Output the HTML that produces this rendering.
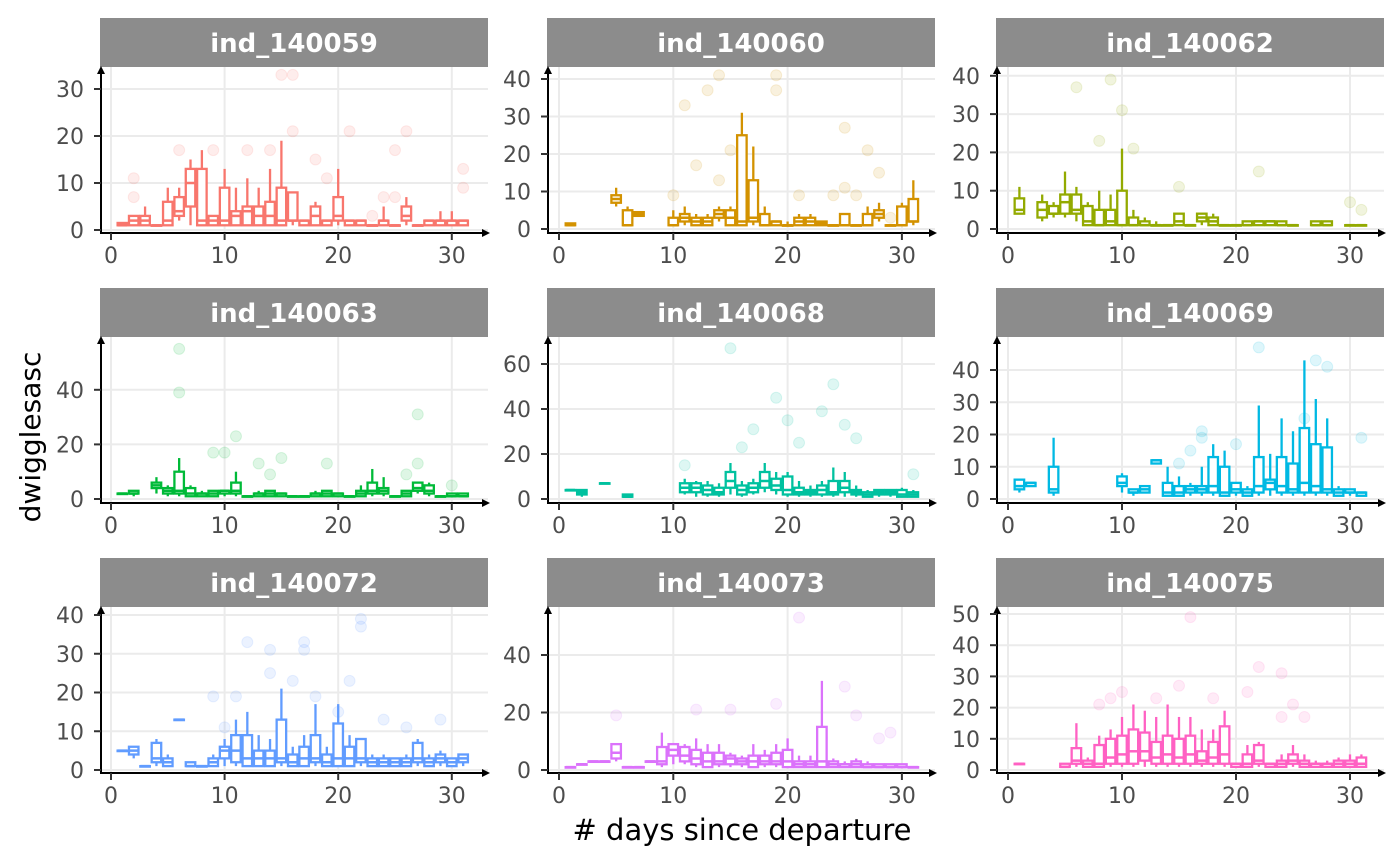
<!DOCTYPE html>
<html><head><meta charset="utf-8"><style>
body{margin:0;background:#fff}svg{display:block}
text{font-family:"DejaVu Sans","Liberation Sans",sans-serif}
</style></head><body>
<svg id="c" width="1400" height="865"></svg>
<script>
const panelNames=["ind_140059","ind_140060","ind_140062","ind_140063","ind_140068","ind_140069","ind_140072","ind_140073","ind_140075"];
const colors=["#F8766D","#D39200","#93AA00","#00BA38","#00C19F","#00B9E3","#619CFF","#DB72FB","#FF61C3"];
const xTicks=[0,10,20,30];
const yTicks=[[0,10,20,30],[0,10,20,30,40],[0,10,20,30,40],[0,20,40],[0,20,40,60],[0,10,20,30,40],[0,10,20,30,40],[0,20,40],[0,10,20,30,40,50]];
// boxes: [day, lower whisker, q1, median, q3, upper whisker]
const boxes=[
[[1,1,1,1,1.5,1.5],[2,1,1,2,3,3],[3,1,1,2,3,5],[4,1,1,1,1,1],[5,1,1,2,6,9],[6,2,3,4,7,9],[7,1,5,10,13,15],[8,1,1,2,13,17],[9,1,1,2,3,3],[10,1,1,2,9,13],[11,1,1,3,4,9],[12,1,1,4,5,11],[13,1,1,3,5,9],[14,1,1,3,6,13],[15,1,1,2,9,19],[16,1,2,2,8,8],[17,1,1,2,2,2],[18,1,1,3,5,6],[19,1,1,2,2,2],[20,1,2,3,7,13],[21,1,1,2,2,2],[22,1,1,2,2,2],[23,1,1,1,1,1],[24,1,1,2,2,5],[25,1,1,1,1,1],[26,1,2,3,5,7],[27,1,1,1,1,1],[28,1,1,2,2,2],[29,1,1,2,2,4],[30,1,1,2,2,4],[31,1,1,2,2,2]],
[[1,1,1,1,1.5,1.5],[5,6,7,8,9,11],[6,1,1,1,5,6],[7,3.5,3.5,4,4.5,4.5],[10,1,1,1,3,5],[11,1,2,3,4,6],[12,1,1,2,3,4],[13,1,1,2,3,4],[14,2,3,4,5,6],[15,1,1,3,5,6],[16,1,1,2,25,31],[17,1,2,3,13,22],[18,1,1,1,4,6],[19,1,1,2,2,2],[20,1,1,1,1,2],[21,1,1,2,3,4],[22,1,1,2,3,4],[23,1,1,1.5,2,2],[24,1,1,1,1,1],[25,1,1,1,4,4],[26,1,1,1,1,1],[27,1,1,1,4,6],[28,2,3,4,5,7],[29,1,1,1,1,1],[30,1,1,1,6,7],[31,1,2,2,8,13]],
[[1,4,4,5,8,11],[3,2,3,5,7,9],[4,3,4,4,6,7],[5,3,4,7,9,15],[6,2,4,5,9,11],[7,1,1,2,6,7],[8,1,1,1,5,10],[9,1,1,2,5,9],[10,1,1,1,10,21],[11,1,1,1,3,5],[12,1,1,1,2,3],[13,1,1,1,1,2],[14,1,1,1,1,1],[15,1,1,2,4,4],[16,1,1,1,1,1],[17,1,2,3,4,4],[18,1,1,2,3,4],[19,1,1,1,1,1],[20,1,1,1,1,1],[21,1,1,1,2,2],[22,1,1,2,2,2],[23,1,1,2,2,2],[24,1,1,1,2,2],[25,1,1,1,1,1],[27,1,1,1,2,2],[28,1,1,1,2,2],[30,1,1,1,1,1],[31,1,1,1,1,1]],
[[1,2,2,2,2,2],[2,1,2,2,3,3],[4,2,4,5,6,8],[5,1,2,3,4,5],[6,1,2,3,10,15],[7,1,1,2,4,5],[8,1,1,2,2,3],[9,1,1,2,3,3],[10,1,2,3,3,3],[11,1,2,3,6,10],[12,1,1,1,1,1],[13,1,1,2,2,3],[14,1,1,2,3,3],[15,1,1,2,2,2],[16,1,1,1,1,1],[17,1,1,1,1,1],[18,1,1,2,2,3],[19,1,1,2,3,3],[20,1,1,2,2,2],[21,1,1,1,1,1],[22,1,1,2,3,5],[23,1,2,3,6,11],[24,1,2,3,4,8],[25,1,1,1,1,1],[26,1,1,2,3,3],[27,2,3,4,6,6],[28,1,2,3,5,6],[29,1,1,1,1,1],[30,1,1,1,2,2],[31,1,1,1,2,2]],
[[1,4,4,4,4,4],[2,1,2,3,4,4],[4,7,7,7,7,7],[6,1,1,1,2,2],[11,2,3,5,7,9],[12,1,3,5,7,8],[13,1,2,4,6,8],[14,1,2,3,5,7],[15,2,5,8,12,16],[16,1,2,4,6,8],[17,2,3,5,7,9],[18,3,5,8,12,16],[19,2,4,6,9,12],[20,1,2,4,10,12],[21,1,2,3,5,8],[22,1,2,3,4,6],[23,1,2,4,6,8],[24,1,2,3,8,14],[25,1,3,5,8,12],[26,1,2,3,4,6],[27,1,1,2,3,4],[28,1,2,3,4,4],[29,1,2,3,4,4],[30,1,1,2,4,5],[31,1,1,2,3,4]],
[[1,2,3,4,6,6],[2,4,4,5,5,5],[4,1,2,3,10,19],[10,2,4,5,7,8],[11,1,2,2,3,3],[12,2,2,3,4,4],[13,11,11,12,12,12],[14,1,1,2,5,10],[15,1,1,2,4,7],[16,1,2,3,4,5],[17,1,2,3,4,10],[18,1,2,4,13,17],[19,1,1,2,10,15],[20,1,2,3,5,5],[21,1,1,2,3,4],[22,1,2,4,13,29],[23,1,3,5,6,14],[24,1,2,4,13,25],[25,1,2,3,11,21],[26,1,2,5,22,43],[27,1,2,4,17,31],[28,1,2,3,16,25],[29,1,1,2,3,4],[30,1,2,2,3,3],[31,1,1,2,2,2]],
[[1,5,5,5,5,5],[2,3,4,5,6,6],[3,1,1,1,1,1],[4,1,2,3,7,8],[5,1,1,2,3,4],[6,13,13,13,13,13],[7,1,1,1,2,2],[8,1,1,1,1,1],[9,1,1,2,3,4],[10,1,3,5,6,8],[11,1,2,5,9,13],[12,1,1,3,9,15],[13,1,1,3,5,9],[14,1,1,3,5,8],[15,1,2,3,13,21],[16,1,1,2,4,6],[17,1,1,3,6,9],[18,1,2,3,9,17],[19,1,1,2,4,6],[20,1,1,3,12,17],[21,1,1,3,6,9],[22,1,2,3,8,8],[23,1,1,2,3,4],[24,1,1,2,3,4],[25,1,1,2,3,3],[26,1,1,2,3,4],[27,1,2,3,7,8],[28,1,1,2,3,4],[29,1,2,3,4,5],[30,1,1,2,3,3],[31,1,2,3,4,4]],
[[1,1,1,1,1,1],[2,2,2,2,2,2],[3,3,3,3,3,3],[4,3,3,3,3,3],[5,3,4,6,9,9],[6,1,1,1,1,1],[7,1,1,1,1,1],[8,3,3,3,3,3],[9,1,2,3,8,13],[10,2,5,7,9,9],[11,2,3,5,8,9],[12,1,2,4,7,11],[13,1,1,3,6,9],[14,1,2,3,6,9],[15,1,2,4,5,6],[16,1,2,3,4,5],[17,1,1,3,5,9],[18,1,2,3,5,7],[19,1,2,3,6,9],[20,1,1,3,7,11],[21,1,1,2,3,5],[22,1,1,2,3,5],[23,1,1,3,15,31],[24,1,1,2,3,4],[25,1,1,2,2,3],[26,1,1,2,3,4],[27,1,1,1,2,3],[28,1,1,1,2,2],[29,1,1,1,2,2],[30,1,1,1,2,2],[31,1,1,1,1,1]],
[[1,2,2,2,2,2],[5,1,1,1,2,2],[6,1,2,3,7,15],[7,1,1,2,3,4],[8,1,1,2,8,11],[9,1,2,4,10,13],[10,1,2,5,11,17],[11,1,2,6,13,21],[12,1,3,6,12,19],[13,1,2,4,9,17],[14,1,2,5,11,21],[15,1,2,4,10,17],[16,1,2,5,11,17],[17,1,2,3,6,13],[18,1,2,4,9,13],[19,1,2,5,14,19],[20,1,1,2,2,2],[21,1,1,2,5,8],[22,1,2,3,8,9],[23,1,1,2,2,2],[24,1,1,2,3,5],[25,1,2,3,5,8],[26,1,1,2,3,5],[27,1,1,2,2,3],[28,1,1,2,2,3],[29,1,1,2,3,4],[30,1,1,2,3,5],[31,1,1,2,4,5]]
];
// outliers: [day, value]
const outliers=[
[[2,7],[2,11],[6,17],[9,17],[12,17],[14,17],[15,33],[16,33],[16,21],[18,15],[19,11],[21,21],[23,3],[24,7],[25,7],[25,17],[26,21],[31,9],[31,13]],
[[10,9],[11,33],[12,17],[13,37],[14,41],[14,13],[15,21],[19,41],[19,37],[21,9],[24,9],[25,27],[25,11],[26,9],[27,21],[28,15],[29,3]],
[[6,37],[8,23],[9,39],[10,31],[11,21],[15,11],[22,15],[30,7],[31,5]],
[[6,55],[6,39],[9,17],[10,17],[11,23],[13,13],[14,9],[15,15],[19,13],[26,9],[27,31],[27,13],[30,5]],
[[11,15],[15,67],[16,23],[17,31],[19,45],[20,35],[21,25],[23,39],[24,51],[25,33],[26,27],[31,11]],
[[15,11],[16,15],[17,21],[17,19],[20,17],[22,47],[26,25],[27,43],[28,41],[31,19]],
[[9,19],[10,11],[11,19],[12,33],[14,31],[14,25],[16,23],[17,33],[17,31],[18,19],[20,15],[22,39],[22,37],[21,23],[24,13],[26,11],[29,13]],
[[5,19],[12,21],[15,21],[19,23],[21,53],[23,11],[25,29],[26,19],[28,11],[29,13]],
[[8,21],[9,23],[10,25],[13,23],[15,27],[16,49],[18,23],[21,25],[22,33],[24,31],[25,21],[26,17],[24,17]]
];
const NS="http://www.w3.org/2000/svg";
const svg=document.getElementById('c');
function mk(tag,attrs,parent){const e=document.createElementNS(NS,tag);for(const k in attrs)e.setAttribute(k,attrs[k]);(parent||svg).appendChild(e);return e;}
const colLeft=[100,547,996], colX0=[111,559,1008], ppd=[11.36,11.43,11.4];
const rowStrip=[18,288,558], rowAxis=[233,503,773];
const yZero=[230,229,229,499,499,499,770,770,770];
const ppu=[4.7,3.75,3.83,2.73,2.25,3.225,3.875,2.875,3.12];
const W=388, SH=49;
mk('defs',{}).innerHTML='<marker id="ar" viewBox="0 0 10 10" refX="5" refY="5" markerWidth="4" markerHeight="4" orient="auto-start-reverse"><path d="M0,0L10,5L0,10z" fill="#000"/></marker>';
for(let p=0;p<9;p++){
  const c=p%3,r=Math.floor(p/3);
  const L=colLeft[c],top=rowStrip[r]+SH,ax=rowAxis[r];
  const xs=d=>colX0[c]+d*ppd[c], ys=v=>yZero[p]-v*ppu[p];
  const g=mk('g',{});
  
  
  for(const t of xTicks){const l=mk('line',{x1:xs(t),x2:xs(t),y1:top,y2:ax,stroke:'#EBEBEB','stroke-width':2},g);}
  for(const t of yTicks[p]){const l=mk('line',{x1:L,x2:L+W,y1:ys(t),y2:ys(t),stroke:'#EBEBEB','stroke-width':2},g);}
  const s=mk('rect',{x:L,y:rowStrip[r],width:W,height:SH,fill:'#8C8C8C'},g);
  
  const st=mk('text',{x:L+W/2,y:rowStrip[r]+34,'text-anchor':'middle','font-size':26,'font-weight':'bold',fill:'#fff'},g);
  st.textContent=panelNames[p];
  for(const o of outliers[p]){const ci=mk('circle',{cx:xs(o[0]),cy:ys(o[1]),r:5.5,fill:colors[p],'fill-opacity':0.13,stroke:colors[p],'stroke-opacity':0.13},g);}
  for(const b of boxes[p]){
    const x=xs(b[0]),bw=9.5;
    const bg=mk('g',{stroke:colors[p],'stroke-width':2.3,fill:'#fff'},g);
    
    mk('line',{x1:x,x2:x,y1:ys(b[1]),y2:ys(b[5])},bg);
    mk('rect',{x:x-bw/2,y:ys(b[4]),width:bw,height:Math.max(ys(b[2])-ys(b[4]),0.5)},bg);
    mk('line',{x1:x-bw/2,x2:x+bw/2,y1:ys(b[3]),y2:ys(b[3]),'stroke-width':2.5},bg);
  }
  const ya=mk('line',{x1:L+1,x2:L+1,y1:ax,y2:top+3,stroke:'#000','stroke-width':2,'marker-end':'url(#ar)'},g);
  
  const xa=mk('line',{x1:L,x2:L+W-2,y1:ax,y2:ax,stroke:'#000','stroke-width':2,'marker-end':'url(#ar)'},g);
  
  for(const t of xTicks){
    mk('line',{x1:xs(t),x2:xs(t),y1:ax,y2:ax+7,stroke:'#333','stroke-width':2},g);
    const tl=mk('text',{x:xs(t),y:ax+30,'text-anchor':'middle','font-size':22,fill:'#4D4D4D'},g);
    tl.textContent=t;
  }
  for(const t of yTicks[p]){
    mk('line',{x1:L-6,x2:L+1,y1:ys(t),y2:ys(t),stroke:'#333','stroke-width':2},g);
    const tl=mk('text',{x:L-16,y:ys(t)+8,'text-anchor':'end','font-size':22,fill:'#4D4D4D'},g);
    tl.textContent=t;
  }
}
const xt=mk('text',{x:742,y:840,'text-anchor':'middle','font-size':29,fill:'#000'});
xt.textContent='# days since departure';
const yt=mk('text',{x:0,y:0,'text-anchor':'middle','font-size':28,fill:'#000',transform:'translate(40,437) rotate(-90)'});
yt.textContent='dwigglesasc';
</script>
</body></html>
